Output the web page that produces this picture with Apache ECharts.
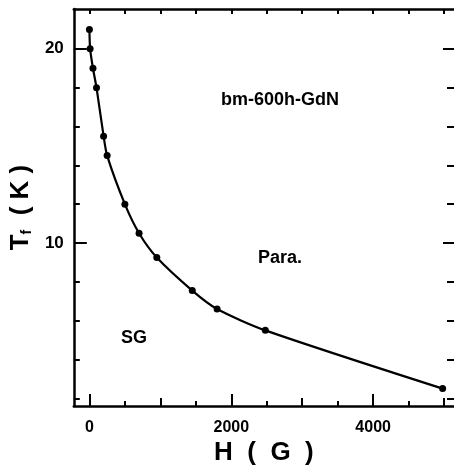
<!DOCTYPE html>
<html>
<head>
<meta charset="utf-8">
<script src="https://cdn.jsdelivr.net/npm/echarts@6/dist/echarts.min.js"></script>
<style>
  html, body { margin: 0; padding: 0; background: #fff; }
  #chart { width: 454px; height: 471px; }
</style>
</head>
<body>
<div id="chart"></div>
<script>
// field H (G) and freezing temperature Tf (K)
const fieldH = [0, 10, 50, 100, 200, 250, 500, 700, 950, 1450, 1800, 2480, 4980]
const tempTf = [21.0, 20.0, 19.0, 18.0, 15.5, 14.5, 12.0, 10.5, 9.25, 7.55, 6.6, 5.5, 2.5]

const xMajor = [0, 2000, 4000]
const xMid = [1000, 3000, 5000]
const xMinor = [500, 1500, 2500, 3500, 4500]
const xTop = [0, 500, 1000, 1500, 2000, 2500, 3000, 3500, 4000, 4500, 5000]
const yMajor = [10, 20]
const yMinor = [2, 4, 6, 8, 12, 14, 16, 18]

const FONT = "Liberation Sans"
const xMin = -220, xMax = 5140
const yMin = 1.6, yMax = 22.05

const chart = echarts.init(document.getElementById("chart"))

const lineStyle = { color: "#000", width: 2.5 }

// extra axes that only carry ticks of a given length
const tickX = (pos, values, len, showLine) => ({
  type: "value",
  position: pos,
  min: xMin,
  max: xMax,
  axisLine: { show: showLine, onZero: false, lineStyle: lineStyle },
  axisTick: { show: true, inside: true, length: len, customValues: values, lineStyle: { color: "#000", width: 2 } },
  axisLabel: { show: false },
  splitLine: { show: false },
})
const tickY = (pos, values, len) => ({
  type: "value",
  position: pos,
  min: yMin,
  max: yMax,
  axisLine: { show: false, onZero: false },
  axisTick: { show: true, inside: true, length: len, customValues: values, lineStyle: { color: "#000", width: 2 } },
  axisLabel: { show: false },
  splitLine: { show: false },
})

const option = {
  backgroundColor: "#fff",
  animation: false,
  grid: { left: 72, right: 0, top: 9, bottom: 63 },
  xAxis: [
    {
      type: "value",
      position: "bottom",
      min: xMin,
      max: xMax,
      name: "H  (  G  )",
      nameLocation: "middle",
      nameGap: 33,
      nameTextStyle: { color: "#000", fontFamily: FONT, fontWeight: "bold", fontSize: 26 },
      axisLine: { show: true, onZero: false, lineStyle: lineStyle },
      axisTick: { show: true, inside: true, length: 12, customValues: xMajor, lineStyle: { color: "#000", width: 2 } },
      axisLabel: { customValues: xMajor, margin: 13, color: "#000", fontFamily: FONT, fontWeight: "bold", fontSize: 16, formatter: v => String(v) },
      splitLine: { show: false },
    },
    tickX("bottom", xMid, 8, false),
    tickX("bottom", xMinor, 5, false),
    tickX("top", xTop, 5, true),
  ],
  yAxis: [
    {
      type: "value",
      position: "left",
      min: yMin,
      max: yMax,
      name: "T{sub|f}  ( K )",
      nameLocation: "middle",
      nameRotate: 90,
      nameGap: 35,
      nameTextStyle: {
        color: "#000", fontFamily: FONT, fontWeight: "bold", fontSize: 26,
        rich: { sub: { fontFamily: FONT, fontWeight: "bold", fontSize: 14, verticalAlign: "bottom", padding: [12, 0, 0, 0] } },
      },
      axisLine: { show: true, onZero: false, lineStyle: lineStyle },
      axisTick: { show: true, inside: true, length: 13, customValues: yMajor, lineStyle: { color: "#000", width: 2 } },
      axisLabel: { customValues: yMajor, margin: 10, color: "#000", fontFamily: FONT, fontWeight: "bold", fontSize: 17, formatter: v => String(v) },
      splitLine: { show: false },
    },
    tickY("left", yMinor, 6),
    tickY("right", yMajor, 11),
    tickY("right", yMinor, 7),
  ],
  graphic: [
    { type: "text", left: 221, top: 91, style: { text: "bm-600h-GdN", fill: "#000", font: "bold 18px " + FONT } },
    { type: "text", left: 258, top: 249, style: { text: "Para.", fill: "#000", font: "bold 18px " + FONT } },
    { type: "text", left: 121, top: 329, style: { text: "SG", fill: "#000", font: "bold 18px " + FONT } },
  ],
  series: [
    {
      type: "line",
      xAxisIndex: 0,
      yAxisIndex: 0,
      data: fieldH.map((h, i) => [h, tempTf[i]]),
      smooth: 0.25,
      symbol: "circle",
      symbolSize: 7,
      itemStyle: { color: "#000" },
      lineStyle: { color: "#000", width: 2.2 },
    },
  ],
}

chart.setOption(option)
</script>
</body>
</html>
